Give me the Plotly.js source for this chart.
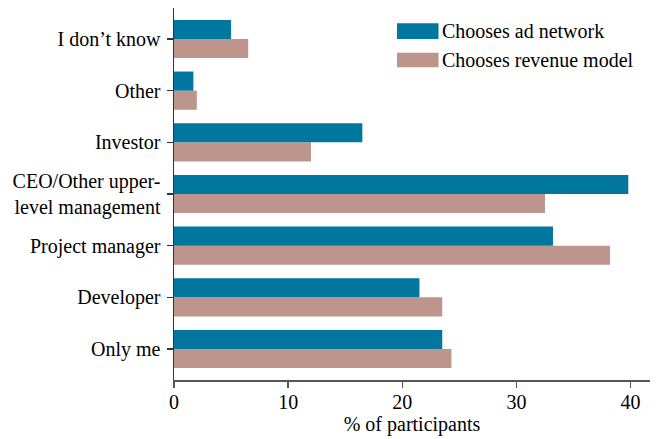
<!DOCTYPE html>
<html>
<head>
<meta charset="utf-8">
<script src="https://cdn.plot.ly/plotly-3.0.1.min.js"></script>
<style>html,body{margin:0;padding:0;background:#fff;}#chart{width:658px;height:439px;}</style>
</head>
<body>
<div id="chart"></div>
<script>
const categories = ["Only me", "Developer", "Project manager", "CEO/Other upper-<br>level management", "Investor", "Other", "I don\u2019t know"];
const adNetwork = [23.5, 21.5, 33.2, 39.8, 16.5, 1.7, 5.0];
const revenueModel = [24.3, 23.5, 38.2, 32.5, 12.0, 2.0, 6.5];
const seriesNames = ["Chooses ad network", "Chooses revenue model"];
const xTicks = [0, 10, 20, 30, 40];

const blue = "#01769f";
const pink = "#bd958d";
const font = {family: "Liberation Serif", size: 20, color: "#000"};

// horizontal grouped bars stack bottom-up, so the revenue-model trace goes first
const traces = [
  {type: "bar", orientation: "h", name: seriesNames[1], y: categories, x: revenueModel,
   marker: {color: pink}, showlegend: false, hoverinfo: "x"},
  {type: "bar", orientation: "h", name: seriesNames[0], y: categories, x: adNetwork,
   marker: {color: blue}, showlegend: false, hoverinfo: "x"}
];

const layout = {
  width: 658, height: 439,
  margin: {l: 174, r: 8, t: 8, b: 59},
  paper_bgcolor: "#fff", plot_bgcolor: "#fff",
  font: font,
  barmode: "group",
  bargap: 0.26, bargroupgap: 0,
  xaxis: {
    range: [0, 41.7], tickvals: xTicks, ticktext: xTicks.map(String),
    showgrid: false, zeroline: false, showline: true, linecolor: "#555", linewidth: 1.5,
    ticks: "outside", ticklen: 6, tickcolor: "#555", tickwidth: 1.5,
    ticklabelstandoff: -3,
    title: {text: "% of participants", font: font, standoff: 1},
    fixedrange: true
  },
  yaxis: {
    type: "category", categoryorder: "array", categoryarray: categories,
    range: [-0.6, 6.6], autorange: false,
    showgrid: false, zeroline: false, showline: true, linecolor: "#333", linewidth: 1.5,
    ticks: "outside", ticklen: 6, tickcolor: "#333", tickwidth: 1.5,
    ticklabelstandoff: 2,
    fixedrange: true
  },
  shapes: [
    {type: "rect", xref: "paper", yref: "paper", x0: 0.4685, x1: 0.5557, y0: 0.9167, y1: 0.9589,
     fillcolor: blue, line: {width: 0}},
    {type: "rect", xref: "paper", yref: "paper", x0: 0.4685, x1: 0.5557, y0: 0.8406, y1: 0.8798,
     fillcolor: pink, line: {width: 0}}
  ],
  annotations: [
    {xref: "paper", yref: "paper", x: 0.5588, y: 0.9378, xanchor: "left", yanchor: "middle",
     text: seriesNames[0], showarrow: false, font: font},
    {xref: "paper", yref: "paper", x: 0.5588, y: 0.8602, xanchor: "left", yanchor: "middle",
     text: seriesNames[1], showarrow: false, font: font}
  ]
};

Plotly.newPlot("chart", traces, layout, {displayModeBar: false, staticPlot: true});
</script>
</body>
</html>
